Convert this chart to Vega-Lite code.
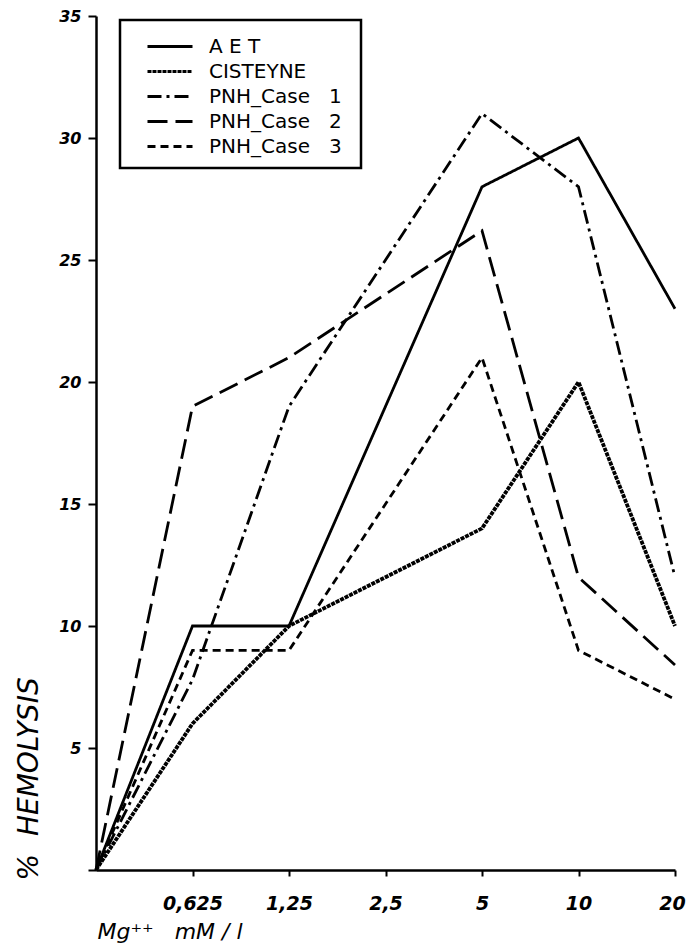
{
  "$schema": "https://vega.github.io/schema/vega-lite/v6.json",
  "autosize": "none",
  "padding": {"left": 96, "top": 16, "right": 13, "bottom": 73},
  "width": 579,
  "height": 854,
  "background": "white",
  "config": {
    "view": {"stroke": null},
    "axis": {
      "domainColor": "black", "domainWidth": 2.5, "tickColor": "black", "tickWidth": 2,
      "grid": false, "labelColor": "black", "titleColor": "black",
      "labelFont": "DejaVu Sans", "labelFontWeight": "bold", "labelFontStyle": "italic",
      "titleFont": "DejaVu Sans", "titleFontStyle": "italic", "titleFontWeight": "normal"
    },
    "legend": {"strokeWidth": 2.5}
  },
  "data": {
    "values": [
      {"conc": "0", "series": "A E T", "hemolysis": 0},
      {"conc": "0,625", "series": "A E T", "hemolysis": 10},
      {"conc": "1,25", "series": "A E T", "hemolysis": 10},
      {"conc": "2,5", "series": "A E T", "hemolysis": 19},
      {"conc": "5", "series": "A E T", "hemolysis": 28},
      {"conc": "10", "series": "A E T", "hemolysis": 30},
      {"conc": "20", "series": "A E T", "hemolysis": 23},
      {"conc": "0", "series": "CISTEYNE", "hemolysis": 0},
      {"conc": "0,625", "series": "CISTEYNE", "hemolysis": 6},
      {"conc": "1,25", "series": "CISTEYNE", "hemolysis": 10},
      {"conc": "2,5", "series": "CISTEYNE", "hemolysis": 12},
      {"conc": "5", "series": "CISTEYNE", "hemolysis": 14},
      {"conc": "10", "series": "CISTEYNE", "hemolysis": 20},
      {"conc": "20", "series": "CISTEYNE", "hemolysis": 10},
      {"conc": "0", "series": "PNH_Case 1", "hemolysis": 0},
      {"conc": "0,625", "series": "PNH_Case 1", "hemolysis": 7.8},
      {"conc": "1,25", "series": "PNH_Case 1", "hemolysis": 19},
      {"conc": "2,5", "series": "PNH_Case 1", "hemolysis": 25},
      {"conc": "5", "series": "PNH_Case 1", "hemolysis": 31},
      {"conc": "10", "series": "PNH_Case 1", "hemolysis": 28},
      {"conc": "20", "series": "PNH_Case 1", "hemolysis": 12},
      {"conc": "0", "series": "PNH_Case 2", "hemolysis": 0},
      {"conc": "0,625", "series": "PNH_Case 2", "hemolysis": 19},
      {"conc": "1,25", "series": "PNH_Case 2", "hemolysis": 21},
      {"conc": "2,5", "series": "PNH_Case 2", "hemolysis": 23.6},
      {"conc": "5", "series": "PNH_Case 2", "hemolysis": 26.2},
      {"conc": "10", "series": "PNH_Case 2", "hemolysis": 12},
      {"conc": "20", "series": "PNH_Case 2", "hemolysis": 8.4},
      {"conc": "0", "series": "PNH_Case 3", "hemolysis": 0},
      {"conc": "0,625", "series": "PNH_Case 3", "hemolysis": 9},
      {"conc": "1,25", "series": "PNH_Case 3", "hemolysis": 9},
      {"conc": "2,5", "series": "PNH_Case 3", "hemolysis": 15},
      {"conc": "5", "series": "PNH_Case 3", "hemolysis": 21},
      {"conc": "10", "series": "PNH_Case 3", "hemolysis": 9},
      {"conc": "20", "series": "PNH_Case 3", "hemolysis": 7}
    ]
  },
  "encoding": {
    "x": {
      "field": "conc", "type": "ordinal",
      "sort": ["0", "0,625", "1,25", "2,5", "5", "10", "20"],
      "scale": {"type": "point", "padding": 0},
      "axis": {
        "values": ["0,625", "1,25", "2,5", "5", "10", "20"],
        "labelAngle": 0, "labelFontSize": 19, "tickSize": 6, "labelPadding": 18,
        "labelOffset": {"condition": {"test": "datum.value == '20'", "value": -3}, "value": 0},
        "title": "Mg⁺⁺\u00a0\u00a0\u00a0mM\u00a0/\u00a0l", "titleFontSize": 22, "titleAnchor": "start", "titleAlign": "left",
        "titleBaseline": "alphabetic", "titleX": 1, "titleY": 68
      }
    },
    "y": {
      "field": "hemolysis", "type": "quantitative",
      "scale": {"domain": [0, 35], "nice": false},
      "axis": {
        "values": [0, 5, 10, 15, 20, 25, 30, 35],
        "labelExpr": "datum.value == 0 ? '' : datum.label",
        "labelFontSize": 16, "tickSize": 8, "labelPadding": 7,
        "title": "%\u00a0\u00a0HEMOLYSIS", "titleFontSize": 28, "titleAngle": -90,
        "titleAlign": "left", "titleBaseline": "middle", "titleX": -67, "titleY": 864
      }
    },
    "strokeDash": {
      "field": "series", "type": "nominal",
      "scale": {
        "domain": ["A E T", "CISTEYNE", "PNH_Case 1", "PNH_Case 2", "PNH_Case 3"],
        "range": [[1, 0], [4, 1], [14, 5, 3, 5], [20, 8], [8, 5]]
      },
      "legend": {
        "title": "\u00a0\u00a0\u00a0\u00a0\u00a0\u00a0\u00a0\u00a0\u00a0\u00a0\u00a0\u00a0\u00a0\u00a0\u00a0\u00a0", "titleOrient": "right", "titleFontSize": 20, "titlePadding": 8,
        "orient": "none", "legendX": 24, "legendY": 4,
        "symbolType": "M-1.667,0H1.667", "symbolSize": 729, "symbolStrokeColor": "black",
        "symbolFillColor": "transparent", "symbolStrokeWidth": 2.8,
        "symbolOffset": 23.5, "labelFont": "DejaVu Sans", "labelFontSize": 20,
        "labelExpr": "replace(datum.label, 'Case ', 'Case\u00a0\u00a0\u00a0')",
        "labelColor": "black", "labelOffset": 24, "rowPadding": 0, "padding": 11.5,
        "strokeColor": "black", "fillColor": "white"
      }
    }
  },
  "layer": [
    {
      "transform": [{"filter": "datum.series != 'CISTEYNE'"}],
      "mark": {"type": "line", "color": "black", "strokeWidth": 2.8, "strokeCap": "butt", "strokeJoin": "miter"}
    },
    {
      "transform": [{"filter": "datum.series == 'CISTEYNE'"}],
      "mark": {"type": "line", "color": "black", "strokeWidth": 3.8, "strokeCap": "butt", "strokeJoin": "miter"}
    }
  ]
}
